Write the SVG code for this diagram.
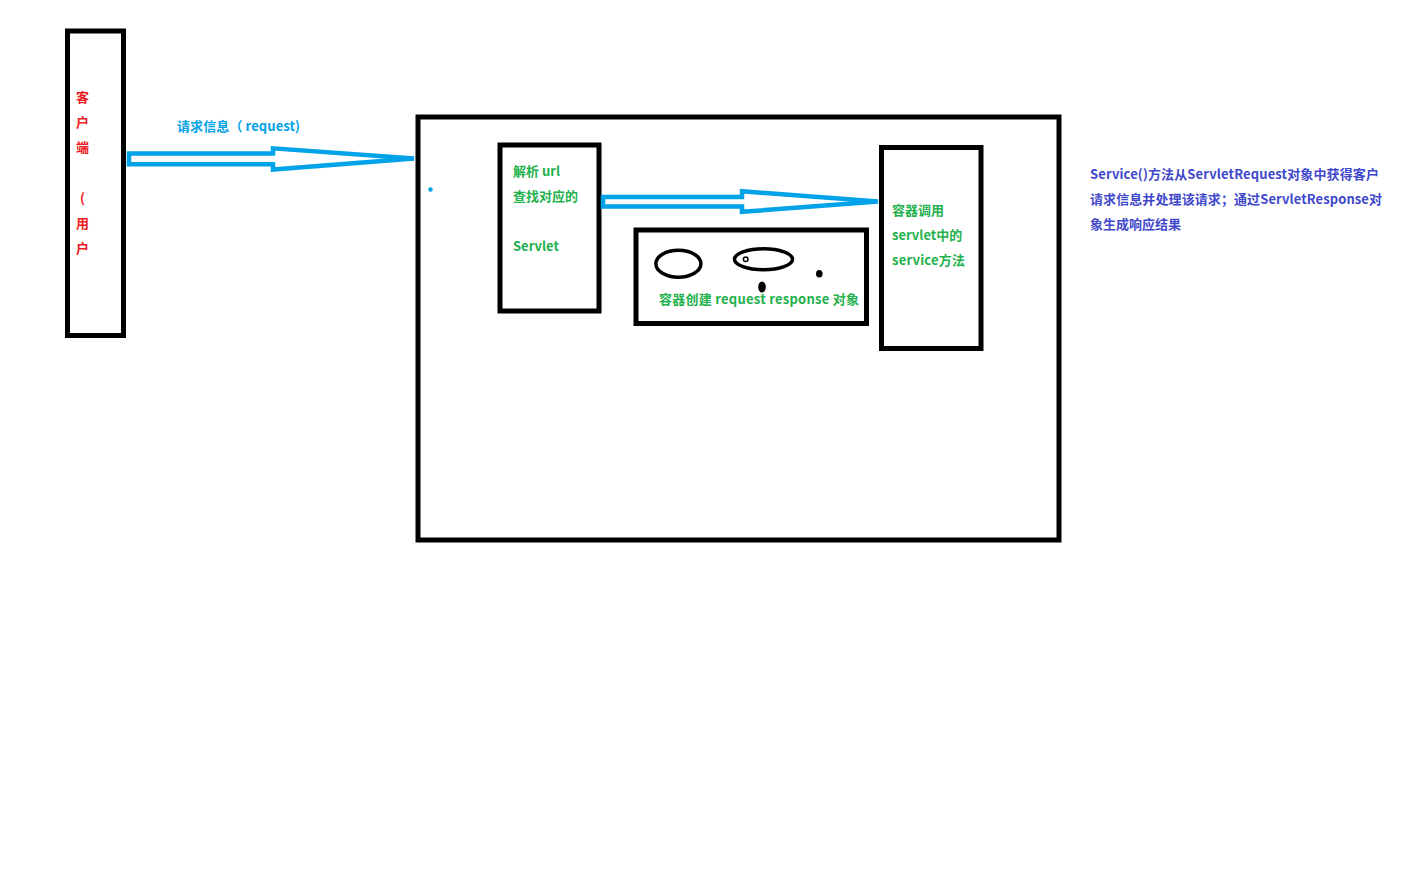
<svg xmlns="http://www.w3.org/2000/svg" width="1413" height="880" viewBox="0 0 1413 880">
<style>
.box{fill:none;stroke:#000;stroke-width:5}
.arrow{fill:none;stroke:#00A2E8;stroke-width:4.5;stroke-linejoin:miter}
text{font-family:"Noto Sans CJK SC","Microsoft YaHei","Liberation Sans",sans-serif;font-weight:bold;font-size:13px}
.red{fill:#ED1C24}
.cyan{fill:#00A2E8}
.green{fill:#22B14C}
.purple{fill:#3F48CC}
.ell{fill:none;stroke:#000;stroke-width:3.5}
</style>
<rect width="1413" height="880" fill="#fff"/>
<g id="client">
<rect class="box" x="67.5" y="31" width="56" height="304.5"/>
<text class="red" x="76" y="102">客</text>
<text class="red" x="76" y="127">户</text>
<text class="red" x="76" y="152">端</text>
<text class="red" x="80" y="203">(</text>
<text class="red" x="76" y="228">用</text>
<text class="red" x="76" y="253">户</text>
</g>
<g id="container">
<rect class="box" x="418" y="117" width="641" height="423" stroke-width="4.5"/>
<circle cx="430.5" cy="189.5" r="2.2" fill="#00A2E8"/>
</g>
<g id="servlet-lookup">
<rect class="box" x="500" y="145" width="99" height="166"/>
<text class="green" x="513" y="176">解析 url</text>
<text class="green" x="513" y="201">查找对应的</text>
<text class="green" x="513" y="251">Servlet</text>
</g>
<g id="request-response">
<rect class="box" x="636" y="230" width="230.5" height="93.5"/>
<ellipse class="ell" cx="678.4" cy="263.7" rx="22.5" ry="13.5"/>
<ellipse class="ell" cx="763.5" cy="259.3" rx="29" ry="10.5"/>
<circle cx="745.7" cy="259.3" r="2.3" fill="none" stroke="#000" stroke-width="1.5"/>
<ellipse cx="819.3" cy="273.7" rx="3.3" ry="3.8" fill="#000"/>
<ellipse cx="762" cy="287" rx="3.8" ry="5.5" fill="#000"/>
<text class="green" x="659" y="304" textLength="200" lengthAdjust="spacing">容器创建 request response 对象</text>
</g>
<g id="service-call">
<rect class="box" x="881.5" y="147.5" width="99.5" height="201"/>
<text class="green" x="892" y="215">容器调用</text>
<text class="green" x="892" y="240">servlet中的</text>
<text class="green" x="892" y="265" textLength="73" lengthAdjust="spacing">service方法</text>
</g>
<g id="note">
<text class="purple" x="1090" y="179" textLength="289" lengthAdjust="spacing">Service()方法从ServletRequest对象中获得客户</text>
<text class="purple" x="1090" y="204" textLength="292" lengthAdjust="spacing">请求信息并处理该请求；通过ServletResponse对</text>
<text class="purple" x="1090" y="229">象生成响应结果</text>
</g>
<g id="connectors">
<polygon class="arrow" points="129,153.5 273,153.5 273,148.3 414,158.5 273,169.5 273,164.3 129,164.3"/>
<text class="cyan" x="177" y="131" textLength="123" lengthAdjust="spacing">请求信息（ request)</text>
<polygon class="arrow" points="603,197 742,197 742,191.3 878,201.5 742,211.8 742,206.5 603,206.5"/>
</g>
</svg>
